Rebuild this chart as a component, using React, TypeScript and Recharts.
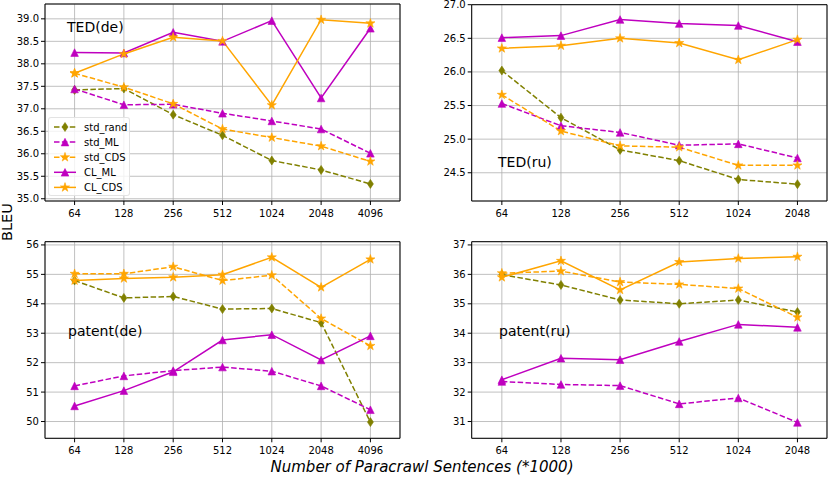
import React from "react";
import {
  LineChart,
  Line,
  XAxis,
  YAxis,
  CartesianGrid,
  ReferenceArea,
} from "recharts";

// x categories (Paracrawl sentences, thousands)
const sizesDe = ["64", "128", "256", "512", "1024", "2048", "4096"];
const sizesRu = ["64", "128", "256", "512", "1024", "2048"];

// TED(de)
const tedDeStdRand = [37.42, 37.45, 36.87, 36.41, 35.85, 35.64, 35.33];
const tedDeStdML = [37.44, 37.09, 37.1, 36.9, 36.73, 36.55, 36.01];
const tedDeStdCDS = [37.79, 37.48, 37.11, 36.55, 36.36, 36.17, 35.83];
const tedDeCLML = [38.25, 38.24, 38.7, 38.5, 38.96, 37.24, 38.79];
const tedDeCLCDS = [37.79, 38.22, 38.59, 38.51, 37.08, 38.98, 38.9];

// TED(ru)
const tedRuStdRand = [26.02, 25.32, 24.84, 24.68, 24.4, 24.33];
const tedRuStdML = [25.53, 25.2, 25.1, 24.91, 24.93, 24.72];
const tedRuStdCDS = [25.66, 25.12, 24.9, 24.88, 24.61, 24.61];
const tedRuCLML = [26.51, 26.54, 26.78, 26.72, 26.69, 26.45];
const tedRuCLCDS = [26.35, 26.39, 26.5, 26.43, 26.18, 26.48];

// patent(de)
const patDeStdRand = [54.79, 54.2, 54.25, 53.82, 53.84, 53.36, 49.98];
const patDeStdML = [51.21, 51.55, 51.73, 51.85, 51.71, 51.21, 50.4];
const patDeStdCDS = [55.02, 55.02, 55.26, 54.79, 54.97, 53.5, 52.57];
const patDeCLML = [50.53, 51.05, 51.69, 52.77, 52.95, 52.09, 52.91];
const patDeCLCDS = [54.79, 54.86, 54.9, 54.99, 55.58, 54.56, 55.51];

// patent(ru)
const patRuStdRand = [35.99, 35.64, 35.13, 35.0, 35.13, 34.72];
const patRuStdML = [32.36, 32.26, 32.22, 31.6, 31.8, 30.97];
const patRuStdCDS = [36.04, 36.11, 35.74, 35.66, 35.52, 34.54];
const patRuCLML = [32.42, 33.15, 33.1, 33.72, 34.3, 34.2];
const patRuCLCDS = [35.9, 36.46, 35.47, 36.42, 36.54, 36.6];

// y ticks
const tedDeTicks = [35, 35.5, 36, 36.5, 37, 37.5, 38, 38.5, 39];
const tedRuTicks = [24.5, 25, 25.5, 26, 26.5, 27];
const patDeTicks = [50, 51, 52, 53, 54, 55, 56];
const patRuTicks = [31, 32, 33, 34, 35, 36, 37];

const OLIVE = "#808000";
const MAGENTA = "#bf00bf";
const ORANGE = "#ffa500";
const FONT = "DejaVu Sans, sans-serif";

const seriesStyles = [
  { key: "std_rand", color: OLIVE, dashed: true, shape: "d" },
  { key: "std_ML", color: MAGENTA, dashed: true, shape: "^" },
  { key: "std_CDS", color: ORANGE, dashed: true, shape: "*" },
  { key: "CL_ML", color: MAGENTA, dashed: false, shape: "^" },
  { key: "CL_CDS", color: ORANGE, dashed: false, shape: "*" },
];

const buildRows = (sizes: string[], cols: number[][]) =>
  sizes.map((_, i) => {
    const row: any = { i };
    seriesStyles.forEach((s, k) => {
      row[s.key] = cols[k][i];
    });
    return row;
  });

const starPath = (cx: number, cy: number, r: number) => {
  let d = "";
  for (let k = 0; k < 10; k++) {
    const a = -Math.PI / 2 + (k * Math.PI) / 5;
    const rr = k % 2 === 0 ? r : r * 0.382;
    d += `${k === 0 ? "M" : "L"}${cx + rr * Math.cos(a)},${cy + rr * Math.sin(a)}`;
  }
  return d + "Z";
};

const markerPath = (shape: string, cx: number, cy: number) => {
  if (shape === "d")
    return `M${cx},${cy - 4.5}L${cx + 3},${cy}L${cx},${cy + 4.5}L${cx - 3},${cy}Z`;
  if (shape === "^")
    return `M${cx},${cy - 3.8}L${cx + 3.8},${cy + 3.8}L${cx - 3.8},${cy + 3.8}Z`;
  return starPath(cx, cy, 4.8);
};

const Marker = ({ shape, color, cx, cy }: any) => (
  <path d={markerPath(shape, cx, cy)} fill={color} stroke={color} strokeWidth={0.6} />
);

interface PanelProps {
  sizes: string[];
  cols: number[][];
  ticks: number[];
  domain: [number, number];
  fmt: (v: number) => string;
  left: number;
  top: number;
  width: number;
  height: number;
  yWidth: number;
  marginTop: number;
  marginRight: number;
  xHeight: number;
}

const Panel = (p: PanelProps) => {
  const rows = buildRows(p.sizes, p.cols);
  const xDomain: [number, number] =
    p.sizes.length === 7 ? [-0.6, 6.6] : [-0.51, 5.5];
  const xTicks = p.sizes.map((_, i) => i);
  const tickStyle = { fontSize: 10, fontFamily: FONT, fill: "#000" };
  return (
    <div style={{ position: "absolute", left: p.left, top: p.top }}>
      <LineChart
        width={p.width}
        height={p.height}
        data={rows}
        margin={{ top: p.marginTop, right: p.marginRight, left: 0, bottom: 0 }}
      >
        <CartesianGrid stroke="#b0b0b0" strokeWidth={0.8} />
        <XAxis
          type="number"
          dataKey="i"
          domain={xDomain}
          ticks={xTicks}
          interval={0}
          allowDataOverflow
          tickFormatter={(v: number) => p.sizes[v]}
          height={p.xHeight}
          axisLine={false}
          tickLine={{ stroke: "#000" }}
          tickSize={4}
          tickMargin={4.5}
          tick={tickStyle}
        />
        <YAxis
          type="number"
          domain={p.domain}
          ticks={p.ticks}
          interval={0}
          allowDataOverflow
          tickFormatter={p.fmt}
          width={p.yWidth}
          axisLine={false}
          tickLine={{ stroke: "#000" }}
          tickSize={4}
          tickMargin={2}
          tick={tickStyle}
        />
        {seriesStyles.map((s) => (
          <Line
            key={s.key}
            type="linear"
            dataKey={s.key}
            stroke={s.color}
            strokeWidth={1.5}
            strokeDasharray={s.dashed ? "5.5 2.4" : undefined}
            dot={(d: any) => (
              <Marker
                key={`${s.key}-${d.index}`}
                shape={s.shape}
                color={s.color}
                cx={d.cx}
                cy={d.cy}
              />
            )}
            activeDot={false}
            isAnimationActive={false}
          />
        ))}
        <ReferenceArea
          x1={xDomain[0]}
          x2={xDomain[1]}
          y1={p.domain[0]}
          y2={p.domain[1]}
          fill="none"
          fillOpacity={0}
          stroke="#000"
          strokeWidth={1}
          ifOverflow="visible"
        />
      </LineChart>
    </div>
  );
};

const LegendBox = () => (
  <div
    style={{
      position: "absolute",
      left: 48,
      top: 117,
      width: 80,
      height: 77,
      background: "rgba(255,255,255,0.8)",
      borderRadius: 3,
      border: "1px solid rgba(220,220,220,0.8)",
    }}
  >
    <svg width={80} height={77}>
      {seriesStyles.map((s, k) => {
        const y = 9 + k * 15.1;
        return (
          <g key={s.key}>
            <line
              x1={5}
              x2={27}
              y1={y}
              y2={y}
              stroke={s.color}
              strokeWidth={1.5}
              strokeDasharray={s.dashed ? "5.5 2.4" : undefined}
            />
            <Marker shape={s.shape} color={s.color} cx={16} cy={y} />
            <text x={35} y={y + 3.6} fontSize={10} fontFamily={FONT} fill="#000">
              {s.key}
            </text>
          </g>
        );
      })}
    </svg>
  </div>
);

const App = () => {
  const f1 = (v: number) => v.toFixed(1);
  const f0 = (v: number) => String(v);
  return (
    <div
      style={{
        position: "absolute",
        left: 0,
        top: 0,
        width: 831,
        height: 479,
        background: "#fff",
        overflow: "hidden",
      }}
    >
      <Panel
        sizes={sizesDe}
        cols={[tedDeStdRand, tedDeStdML, tedDeStdCDS, tedDeCLML, tedDeCLCDS]}
        ticks={tedDeTicks}
        domain={[34.95, 39.33]}
        fmt={f1}
        left={0}
        top={0}
        width={420}
        height={230}
        yWidth={45}
        marginTop={4}
        marginRight={20}
        xHeight={29}
      />
      <Panel
        sizes={sizesRu}
        cols={[tedRuStdRand, tedRuStdML, tedRuStdCDS, tedRuCLML, tedRuCLCDS]}
        ticks={tedRuTicks}
        domain={[24.08, 27.0]}
        fmt={f1}
        left={420}
        top={0}
        width={411}
        height={230}
        yWidth={51.7}
        marginTop={4.7}
        marginRight={4}
        xHeight={29}
      />
      <Panel
        sizes={sizesDe}
        cols={[patDeStdRand, patDeStdML, patDeStdCDS, patDeCLML, patDeCLCDS]}
        ticks={patDeTicks}
        domain={[49.43, 56.11]}
        fmt={f0}
        left={0}
        top={230}
        width={420}
        height={238.3}
        yWidth={45}
        marginTop={11.7}
        marginRight={20}
        xHeight={30}
      />
      <Panel
        sizes={sizesRu}
        cols={[patRuStdRand, patRuStdML, patRuStdCDS, patRuCLML, patRuCLCDS]}
        ticks={patRuTicks}
        domain={[30.43, 37.11]}
        fmt={f0}
        left={420}
        top={230}
        width={411}
        height={238.3}
        yWidth={51.7}
        marginTop={11.7}
        marginRight={4}
        xHeight={30}
      />
      <LegendBox />
      <svg
        width={831}
        height={479}
        style={{ position: "absolute", left: 0, top: 0, pointerEvents: "none" }}
      >
        <g fontFamily={FONT} fill="#000">
          <text x={67} y={31.7} fontSize={14}>TED(de)</text>
          <text x={498} y={166.7} fontSize={14}>TED(ru)</text>
          <text x={68} y={336} fontSize={14}>patent(de)</text>
          <text x={499} y={336} fontSize={14}>patent(ru)</text>
          <text
            transform="translate(12,222) rotate(-90)"
            textAnchor="middle"
            fontSize={14.5}
          >
            BLEU
          </text>
          <text x={422} y={472} textAnchor="middle" fontSize={15} fontStyle="italic">
            Number of Paracrawl Sentences (*1000)
          </text>
        </g>
      </svg>
    </div>
  );
};

export default App;
